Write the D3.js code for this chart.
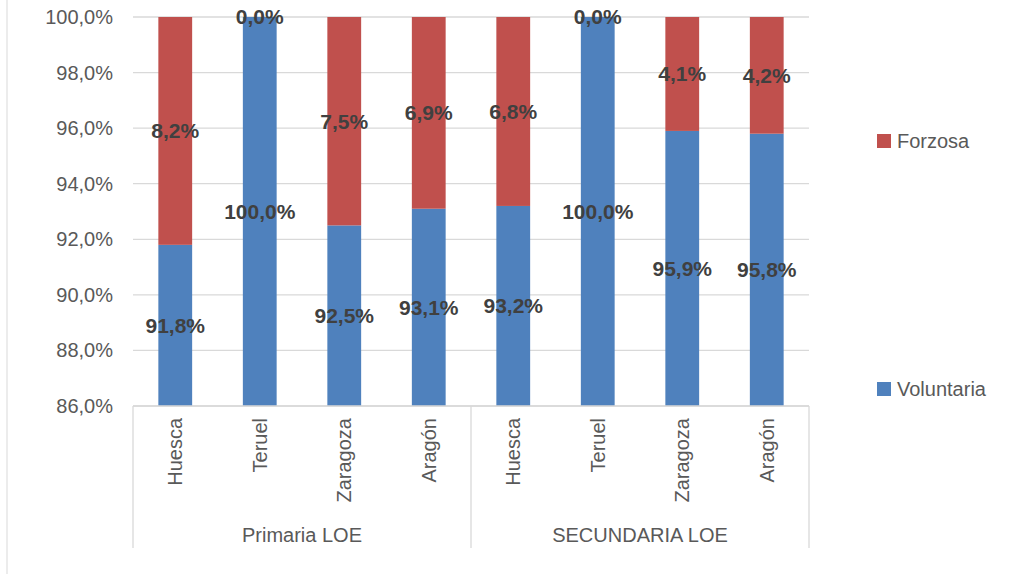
<!DOCTYPE html>
<html>
<head>
<meta charset="utf-8">
<script src="https://cdn.jsdelivr.net/npm/d3@7"></script>
<style>
  body { margin: 0; background: #fff; }
  text { font-family: "Liberation Sans", Arial, sans-serif; }
</style>
</head>
<body>
<div id="chart"></div>
<script>
// data
var groups = ["Primaria LOE", "SECUNDARIA LOE"];
var provinces = ["Huesca", "Teruel", "Zaragoza", "Aragón"];
var voluntaria = [91.8, 100.0, 92.5, 93.1, 93.2, 100.0, 95.9, 95.8];
var forzosa = [8.2, 0.0, 7.5, 6.9, 6.8, 0.0, 4.1, 4.2];
var yTicks = [86, 88, 90, 92, 94, 96, 98, 100];

var svgWidth = 1015, svgHeight = 574;
var margin = {top: 17, left: 133, right: 206, bottom: 168};
var width = svgWidth - margin.left - margin.right;
var height = svgHeight - margin.top - margin.bottom;

var loc = d3.formatLocale({decimal: ",", thousands: ".", grouping: [3], currency: ["", "€"]});
var pct = loc.format(".1f");

var svg = d3.select("#chart").append("svg")
  .attr("width", svgWidth)
  .attr("height", svgHeight);

// outer chart frame (left edge visible)
svg.append("line")
  .attr("x1", 7).attr("x2", 7).attr("y1", 0).attr("y2", svgHeight)
  .attr("stroke", "#d9d9d9").attr("stroke-width", 1);

var g = svg.append("g").attr("transform", `translate(${margin.left},${margin.top})`);

var cats = [];
groups.forEach(function(gr, gi) {
  provinces.forEach(function(p, pi) { cats.push(gi * provinces.length + pi); });
});

var x = d3.scaleBand().domain(cats).range([0, width]).paddingInner(0.6).paddingOuter(0.3);
var y = d3.scaleLinear().domain([86, 100]).range([height, 0]);

// gridlines
g.selectAll(".grid").data(yTicks).enter().append("line")
  .attr("x1", 0).attr("x2", width)
  .attr("y1", d => y(d)).attr("y2", d => y(d))
  .attr("stroke", "#d9d9d9").attr("stroke-width", 1.3);

// y labels
g.selectAll(".ylab").data(yTicks).enter().append("text")
  .attr("x", -20).attr("y", d => y(d)).attr("dy", "0.35em")
  .attr("text-anchor", "end").attr("fill", "#595959").attr("font-size", 20)
  .text(d => pct(d) + "%");

var data = cats.map(function(c) { return {c: c, v: voluntaria[c], f: forzosa[c]}; });

// voluntaria bars
g.selectAll(".vol").data(data).enter().append("rect")
  .attr("x", d => x(d.c)).attr("width", x.bandwidth())
  .attr("y", d => y(d.v)).attr("height", d => y(86) - y(d.v))
  .attr("fill", "#4f81bd");

// forzosa bars
g.selectAll(".forz").data(data).enter().append("rect")
  .attr("x", d => x(d.c)).attr("width", x.bandwidth())
  .attr("y", d => y(d.v + d.f)).attr("height", d => y(d.v) - y(d.v + d.f))
  .attr("fill", "#c0504d");

// data labels
g.selectAll(".vlab").data(data).enter().append("text")
  .attr("x", d => x(d.c) + x.bandwidth() / 2)
  .attr("y", d => y((86 + d.v) / 2)).attr("dy", "0.35em")
  .attr("text-anchor", "middle").attr("font-weight", "bold")
  .attr("font-size", 21).attr("fill", "#404040")
  .text(d => pct(d.v) + "%");

g.selectAll(".flab").data(data).enter().append("text")
  .attr("x", d => x(d.c) + x.bandwidth() / 2)
  .attr("y", d => y(d.v + d.f / 2)).attr("dy", "0.35em")
  .attr("text-anchor", "middle").attr("font-weight", "bold")
  .attr("font-size", 21).attr("fill", "#404040")
  .text(d => pct(d.f) + "%");

// category axis
g.append("line")
  .attr("x1", 0).attr("x2", width).attr("y1", height).attr("y2", height)
  .attr("stroke", "#d9d9d9").attr("stroke-width", 1.3);

var groupW = width / groups.length;
d3.range(groups.length + 1).forEach(function(i) {
  g.append("line")
    .attr("x1", i * groupW).attr("x2", i * groupW)
    .attr("y1", height).attr("y2", height + 142)
    .attr("stroke", "#d9d9d9").attr("stroke-width", 1.3);
});

g.selectAll(".xlab").data(cats).enter().append("text")
  .attr("transform", d => `translate(${x(d) + x.bandwidth() / 2},${height + 12}) rotate(-90)`)
  .attr("text-anchor", "end").attr("dy", "0.35em")
  .attr("font-size", 20).attr("fill", "#595959")
  .text(d => provinces[d % provinces.length]);

g.selectAll(".glab").data(groups).enter().append("text")
  .attr("x", (d, i) => i * groupW + groupW / 2)
  .attr("y", height + 129).attr("dy", "0.35em")
  .attr("text-anchor", "middle").attr("font-size", 20).attr("fill", "#595959")
  .text(d => d);

// legend
var legend = [{name: "Forzosa", color: "#c0504d", y: 141}, {name: "Voluntaria", color: "#4f81bd", y: 389}];
var lg = svg.selectAll(".leg").data(legend).enter().append("g")
  .attr("transform", d => `translate(877,${d.y})`);
lg.append("rect").attr("x", 0).attr("y", -7).attr("width", 14).attr("height", 14)
  .attr("fill", d => d.color);
lg.append("text").attr("x", 20).attr("dy", "0.35em")
  .attr("font-size", 20).attr("fill", "#595959")
  .text(d => d.name);
</script>
</body>
</html>
